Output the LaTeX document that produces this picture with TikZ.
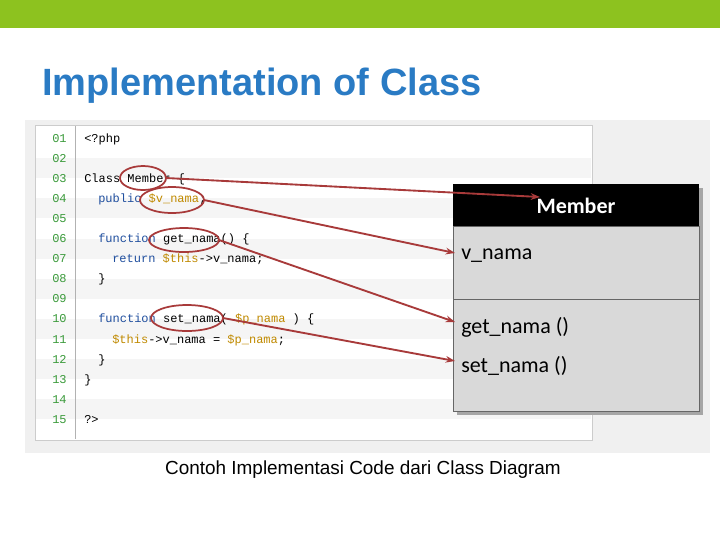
\documentclass[tikz,border=0pt]{standalone}
\usepackage{fontspec}
\setmainfont{Liberation Sans}
\setmonofont{Liberation Mono}
\newfontfamily\calib{Carlito}
\usetikzlibrary{arrows.meta}
\begin{document}
\begin{tikzpicture}[x=0.75pt,y=-0.75pt,
  code/.style={anchor=base west,inner sep=0pt,font=\ttfamily\fontsize{9}{10}\selectfont},
  lnum/.style={code,text=numg},
  umltxt/.style={anchor=base west,inner sep=0pt,font=\calib\fontsize{16.5}{19}\selectfont},
  circ/.style={draw=arr,line width=1.3pt},
  link/.style={draw=arr,line width=1.4pt,-{Stealth[length=7pt,width=5pt]}}]
\definecolor{topg}{HTML}{8DC21F}
\definecolor{ttl}{HTML}{2A7BC4}
\definecolor{numg}{HTML}{3A9A3A}
\definecolor{kw}{HTML}{1F4E9E}
\definecolor{vr}{HTML}{C08A00}
\definecolor{arr}{HTML}{A83A3A}
\useasboundingbox (0,0) rectangle (720,540);
\fill[topg] (0,0) rectangle (720,28);
\node[anchor=base west,inner sep=0pt,text=ttl,font=\bfseries\fontsize{28.5}{32}\selectfont] (title) at (42,95) {Implementation of Class};
\fill[black!6] (25,120) rectangle (710,453);
\fill[white,draw=black!20] (35,125) rectangle (592,440);
\foreach \i in {2,4,...,14} \fill[black!4] (36,128+\i*20.1-10) rectangle (591,128+\i*20.1+10);
\draw[black!30] (75,126) -- (75,439);
\foreach \i in {1,...,15} \node[lnum] (n\i) at (52,142+\i*20.1-20.1) {\ifnum\i<10 0\fi\i};
\node[code] (l1) at (84,142) {<?php};
\node[code] (l3) at (84,182.2) {Class Member \{};
\node[code] (l4) at (98,202.3) {\textcolor{kw}{public} \textcolor{vr}{\$v\_nama};};
\node[code] (l6) at (98,242.5) {\textcolor{kw}{function} get\_nama() \{};
\node[code] (l7) at (112,262.6) {\textcolor{kw}{return} \textcolor{vr}{\$this}->v\_nama;};
\node[code] (l8) at (98,282.7) {\}};
\node[code] (l10) at (98,322.9) {\textcolor{kw}{function} set\_nama( \textcolor{vr}{\$p\_nama} ) \{};
\node[code] (l11) at (112,343) {\textcolor{vr}{\$this}->v\_nama = \textcolor{vr}{\$p\_nama};};
\node[code] (l12) at (98,363.1) {\}};
\node[code] (l13) at (84,383.2) {\}};
\node[code] (l15) at (84,423.4) {?>};
% ellipses
\draw[circ] (143,178) ellipse (23 and 12); \coordinate (e1) at (166,178);
\draw[circ] (172,200) ellipse (32 and 13); \coordinate (e2) at (204,200);
\draw[circ] (184,240) ellipse (35 and 12); \coordinate (e3) at (219,240);
\draw[circ] (187,318) ellipse (36 and 13); \coordinate (e4) at (223,318);
% UML
\fill[black!35] (457,188) rectangle (703,415);
\fill[black] (453,184) rectangle (699,226);
\fill[black!15,draw=black!60] (453,226) rectangle (699,299);
\fill[black!15,draw=black!60] (453,299) rectangle (699,411);
\node[text=white,font=\calib\bfseries\fontsize{16.5}{19}\selectfont] (mem) at (576,206) {Member};
\node[umltxt] (vn) at (461,259) {v\_nama};
\node[umltxt] (gn) at (461,333) {get\_nama ()};
\node[umltxt] (sn) at (461,372) {set\_nama ()};
\coordinate (t1) at (540,197);
\coordinate (t2) at (455,253);
\coordinate (t3) at (455,322);
\coordinate (t4) at (455,361);
\draw[link] (e1) -- (t1);
\draw[link] (e2) -- (t2);
\draw[link] (e3) -- (t3);
\draw[link] (e4) -- (t4);
\node[anchor=base,inner sep=0pt,font=\fontsize{14.2}{17}\selectfont] (cap) at (363,474) {Contoh Implementasi Code dari Class Diagram};
\end{tikzpicture}
\end{document}
